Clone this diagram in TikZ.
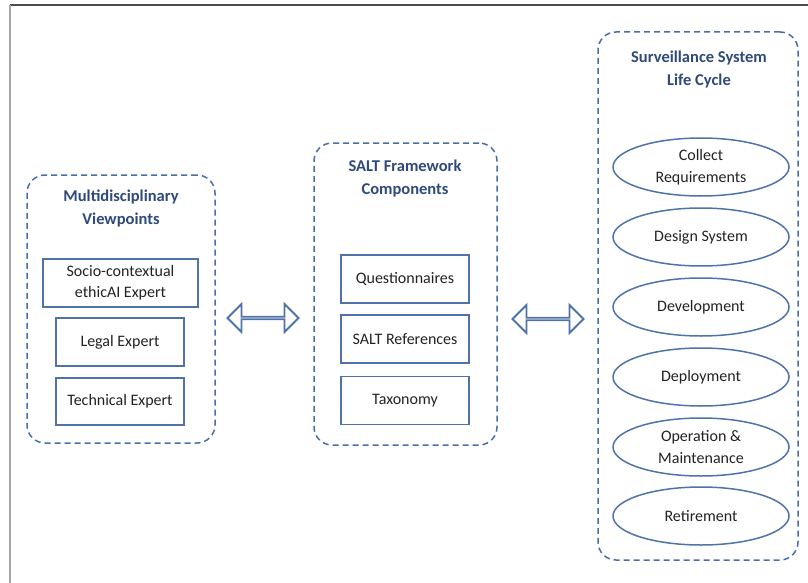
\documentclass[tikz,border=0pt]{standalone}
\usepackage{fontspec}
\setmainfont{Carlito}
\usetikzlibrary{shapes.geometric,shapes.arrows}
\definecolor{dashblue}{HTML}{4A6EA8}
\definecolor{boxblue}{HTML}{4F73A8}
\definecolor{titleblue}{HTML}{2E4A7A}
\definecolor{txt}{HTML}{222222}
\tikzset{
  container/.style={draw=dashblue, line width=1.5pt, dash pattern=on 6pt off 4pt, rounded corners=18pt, inner sep=0pt},
  title/.style={text=titleblue, font=\fontsize{16.5}{23}\selectfont\bfseries, align=center},
  itembox/.style={draw=boxblue, line width=1.5pt, text=txt, font=\fontsize{16}{21}\selectfont, align=center, inner sep=0pt},
  stage/.style={ellipse, draw=boxblue, line width=1.5pt, text=txt, font=\fontsize{16}{22}\selectfont, align=center, inner sep=0pt, minimum width=176pt, minimum height=58pt},
  blockarrow/.style={double arrow, draw=boxblue, line width=1.8pt, fill=white, inner sep=0pt, minimum height=71pt, minimum width=28pt, double arrow head extend=9pt, double arrow head indent=0pt}
}
\begin{document}
\begin{tikzpicture}[x=1pt,y=-1pt]
\useasboundingbox (0,0) rectangle (808,583);
% outer frame
\coordinate (ftl) at (10,5);
\coordinate (ftr) at (808,5);
\coordinate (fbl) at (10,583);
\draw[line width=2.2pt, color=black!70] (ftl) -- (ftr);
\draw[line width=1.5pt, color=black!35] (ftl) -- (fbl);

% containers
\node[container, minimum width=188pt, minimum height=268pt] (leftc) at (121,309) {};
\node[container, minimum width=183pt, minimum height=302pt] (midc) at (405.5,294) {};
\node[container, minimum width=200pt, minimum height=528pt] (rightc) at (698,296) {};

% titles
\node[title] (lt) at (121,208) {Multidisciplinary\\Viewpoints};
\node[title] (mt) at (405,179) {SALT Framework\\Components};
\node[title] (rt) at (699,70) {Surveillance System\\Life Cycle};

% left boxes
\node[itembox, minimum width=155pt, minimum height=48pt] (socio) at (120.5,283) {Socio-contextual\\ethicAI Expert};
\node[itembox, minimum width=128pt, minimum height=48pt] (legal) at (120,342) {Legal Expert};
\node[itembox, minimum width=128pt, minimum height=47pt] (tech) at (120,401.5) {Technical Expert};

% middle boxes
\node[itembox, minimum width=128pt, minimum height=48pt] (quest) at (405,279) {Questionnaires};
\node[itembox, minimum width=128pt, minimum height=48pt] (refs) at (405,339) {SALT References};
\node[itembox, minimum width=128pt, minimum height=48pt] (tax) at (405,400.5) {Taxonomy};

% stages
\node[stage] (collect) at (701,167) {Collect\\Requirements};
\node[stage] (design) at (701,237) {Design System};
\node[stage] (dev) at (701,307) {Development};
\node[stage] (deploy) at (701,377) {Deployment};
\node[stage] (ops) at (701,447) {Operation \&\\Maintenance};
\node[stage] (retire) at (701,516) {Retirement};

% block arrows
\node[blockarrow] (a1) at (263,318) {};
\node[blockarrow] (a2) at (548,319) {};
\end{tikzpicture}
\end{document}
